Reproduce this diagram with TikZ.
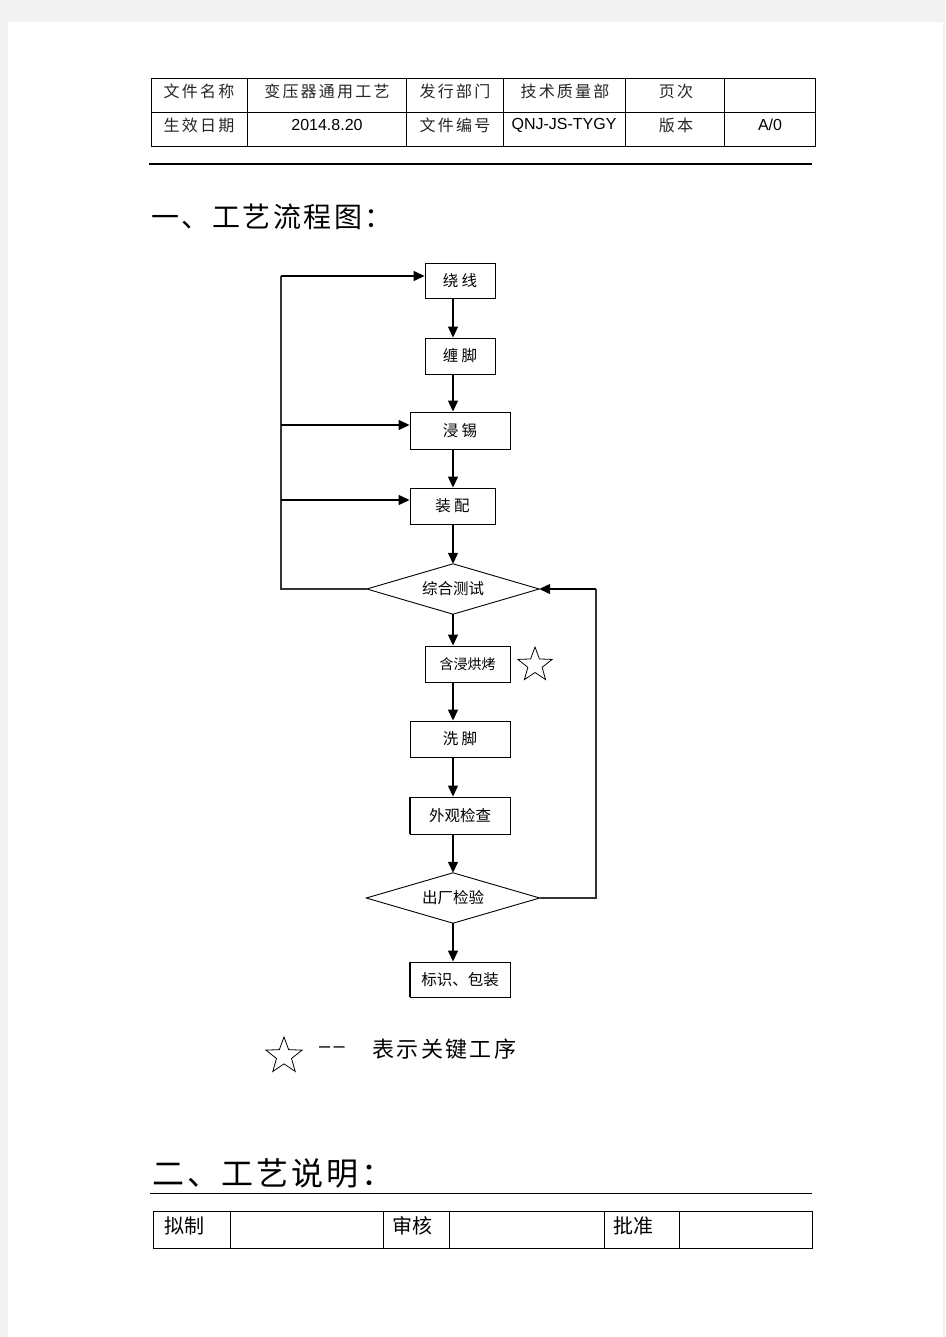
\documentclass[tikz,border=0pt]{standalone}
\usepackage{fontspec}
\setmainfont{Liberation Serif}
\newfontfamily\cjk{Noto Sans CJK SC}
\newfontfamily\cjkls[LetterSpace=14]{Noto Sans CJK SC}
\newfontfamily\cjkll[LetterSpace=11]{Noto Sans CJK SC}
\newfontfamily\cjkt[LetterSpace=9]{Noto Sans CJK SC}
\newfontfamily\latn{Liberation Sans}
\usetikzlibrary{arrows.meta,shapes.geometric}
\begin{document}
\begin{tikzpicture}[x=1pt,y=-1pt,
  grid/.style={draw=black,line width=0.9pt},
  hdr/.style={font=\cjkls\fontsize{16}{18}\selectfont,inner sep=0pt,text=black!85},
  hdrl/.style={font=\latn\fontsize{16}{18}\selectfont,inner sep=0pt},
  pbox/.style={draw=black,line width=0.9pt,inner sep=0pt,font=\cjk\fontsize{15.5}{17}\selectfont},
  dec/.style={inner sep=0pt,font=\cjk\fontsize{15.5}{17}\selectfont},
  decline/.style={draw=black,line width=0.9pt,line join=miter},
  arr/.style={draw=black,line width=1.3pt,-{Triangle[length=11pt,width=10pt]}},
  ln/.style={draw=black!80,line width=1.3pt},
  keystar/.style={draw=black,line width=0.8pt,star,star points=5,star point ratio=2.4,minimum size=36pt,inner sep=0pt}
]
\useasboundingbox (0,0) rectangle (945,1337);
\fill[black!5] (0,0) rectangle (945,1337);
\fill[white] (8,22) rectangle (943,1337);

% header table
\draw[grid] (151,78) rectangle (815,146);
\draw[grid] (151,112) -- (815,112);
\foreach \xx in {247,406,503,625,724} \draw[grid] (\xx,78) -- (\xx,146);
\node[hdr] (h11) at (199,91) {文件名称};
\node[hdr] (h12) at (327,91) {变压器通用工艺};
\node[hdr] (h13) at (455,91) {发行部门};
\node[hdr] (h14) at (565,91) {技术质量部};
\node[hdr] (h15) at (676,91) {页次};
\node[hdr] (h21) at (199,125) {生效日期};
\node[hdrl] (h22) at (327,125) {2014.8.20};
\node[hdr] (h23) at (455,125) {文件编号};
\node[hdrl] (h24) at (564,125) {QNJ-JS-TYGY};
\node[hdr] (h25) at (676,125) {版本};
\node[hdrl] (h26) at (770,125) {A/0};
\draw[line width=2pt] (149,164) -- (812,164);

% title
\node[anchor=west,inner sep=0pt,font=\cjkt\fontsize{28}{30}\selectfont] (t1) at (151,217) {一、工艺流程图：};

% flow nodes
\node[pbox,minimum width=70pt,minimum height=35pt] (n1) at (460,281) {绕 线};
\node[pbox,minimum width=70pt,minimum height=36pt] (n2) at (460,356) {缠 脚};
\node[pbox,minimum width=100pt,minimum height=37pt] (n3) at (460,430.5) {浸 锡};
\draw[line width=1.8pt] (n3.south west) -- (n3.south east);
\node[pbox,minimum width=85pt,minimum height=36pt] (n4) at (452.5,506) {装 配};
\node[dec,minimum width=172pt,minimum height=50pt] (d1) at (453,589) {综合测试};
\draw[decline] (d1.north) -- (d1.east) -- (d1.south) -- (d1.west) -- cycle;
\node[pbox,minimum width=85pt,minimum height=36pt,font=\cjk\fontsize{14}{16}\selectfont] (n5) at (467.5,664) {含浸烘烤};
\node[keystar] (s1) at (535,665) {};
\node[pbox,minimum width=100pt,minimum height=36pt] (n6) at (460,739) {洗 脚};
\node[pbox,minimum width=100pt,minimum height=37pt] (n7) at (460,815.5) {外观检查};
\draw[line width=1.8pt] (n7.north west) -- (n7.south west);
\node[dec,minimum width=173pt,minimum height=50pt] (d2) at (453,898) {出厂检验};
\draw[decline] (d2.north) -- (d2.east) -- (d2.south) -- (d2.west) -- cycle;
\node[pbox,minimum width=100pt,minimum height=35pt] (n8) at (460,979.5) {标识、包装};
\draw[line width=1.8pt] (n8.north west) -- (n8.south west);

% vertical flow
\draw[arr] (n1.south -| d1.center) -- (n2.north -| d1.center);
\draw[arr] (n2.south -| d1.center) -- (n3.north -| d1.center);
\draw[arr] (n3.south -| d1.center) -- (n4.north -| d1.center);
\draw[arr] (n4.south -| d1.center) -- (d1.north);
\draw[arr] (d1.south) -- (n5.north -| d1.center);
\draw[arr] (n5.south -| d1.center) -- (n6.north -| d1.center);
\draw[arr] (n6.south -| d1.center) -- (n7.north -| d1.center);
\draw[arr] (n7.south -| d2.center) -- (d2.north);
\draw[arr] (d2.south) -- (n8.north -| d2.center);

% left feedback
\coordinate (lb) at (281,589);
\coordinate (lt) at (281,276);
\coordinate (l3) at (281,425);
\coordinate (l4) at (281,500);
\draw[ln] (d1.west) -- (lb) -- (lt);
\draw[arr] (lt) -- ([yshift=5pt]n1.west);
\draw[arr] (l3) -- ([yshift=5.5pt]n3.west);
\draw[arr] (l4) -- ([yshift=6pt]n4.west);

% right feedback
\coordinate (rb) at (596,898);
\coordinate (rt) at (rb |- d1.east);
\draw[ln] (d2.east) -- (rb) -- (rt);
\draw[arr] (rt) -- (d1.east);

% legend
\node[keystar,minimum size=38pt] (s2) at (284,1056) {};
\node[anchor=west,inner sep=0pt,font=\latn\fontsize{20}{22}\selectfont] (dd) at (319,1050) {–\,–};
\node[anchor=west,inner sep=0pt,font=\cjkll\fontsize{22}{24}\selectfont] (lg) at (372,1049) {表示关键工序};

% section two
\node[anchor=west,inner sep=0pt,font=\cjkt\fontsize{32}{34}\selectfont] (t2) at (152,1173) {二、工艺说明：};
\draw[line width=1pt] (150,1193) -- (812,1193);
\draw[grid] (153,1211) rectangle (812,1248);
\foreach \xx in {230,383,449,604,679} \draw[grid] (\xx,1211) -- (\xx,1248);
\node[anchor=west,inner sep=0pt,font=\cjk\fontsize{20}{22}\selectfont] (b1) at (164,1226) {拟制};
\node[anchor=west,inner sep=0pt,font=\cjk\fontsize{20}{22}\selectfont] (b2) at (392,1226) {审核};
\node[anchor=west,inner sep=0pt,font=\cjk\fontsize{20}{22}\selectfont] (b3) at (613,1226) {批准};
\end{tikzpicture}
\end{document}
